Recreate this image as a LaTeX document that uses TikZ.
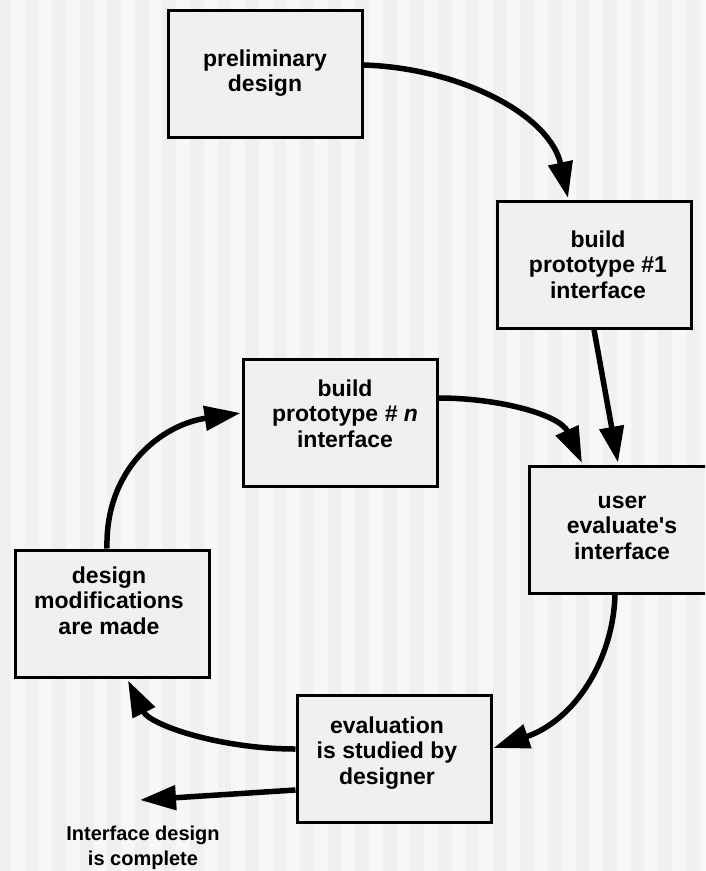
\documentclass[tikz,border=0pt]{standalone}
\usepackage{fontspec}
\setmainfont{Liberation Sans}
\usetikzlibrary{arrows.meta,calc}
\definecolor{stripedark}{HTML}{F0F0F0}
\definecolor{stripelight}{HTML}{F7F7F7}
\definecolor{boxfill}{HTML}{F0F0F0}
% centred block of lines whose base is the baseline of the first line
\newcommand{\boxlines}[1]{\begin{tabular}[t]{@{}c@{}}#1\end{tabular}}

\begin{document}
\begin{tikzpicture}[x=1pt,y=-1pt,
  stepbox/.style={draw=black, line width=3pt, fill=boxfill,
    minimum width=194pt, minimum height=127pt, inner sep=0pt},
  boxtext/.style={anchor=base, inner sep=0pt,
    font=\fontsize{23}{25.5}\selectfont\bfseries},
  notetext/.style={anchor=base, inner sep=0pt,
    font=\fontsize{20}{25}\selectfont\bfseries},
  flow/.style={line width=5.5pt,
    -{Triangle[length=36pt,width=24pt]}}]

\useasboundingbox (0,0) rectangle (705,871);
\clip (0,0) rectangle (705,871);

% striped backdrop
\fill[stripedark] (0,0) rectangle (705,871);
\foreach \k in {0,...,25}
  \fill[stripelight] ({11+27.54*\k},0) rectangle ++(13.77,871);

% boxes
\node[stepbox] (pd) at (265,73.5) {};
\node[stepbox] (p1) at (594,264.5) {};
\node[stepbox] (pn) at (340,422.5) {};
\node[stepbox] (ue) at (626,530) {};
\node[stepbox] (dm) at (112,613.5) {};
\node[stepbox] (ev) at (394,758.5) {};

% box captions
\node[boxtext] (pdt) at (265,66) {\boxlines{preliminary\\design}};
\node[boxtext] (p1t) at (598,247) {\boxlines{build\\prototype \#1\\interface}};
\node[boxtext] (pnt) at (345,396) {\boxlines{build\\prototype \textit{\# n}\\interface}};
\node[boxtext] (uet) at (622,508) {\boxlines{user\\evaluate\textquotesingle s\\interface}};
\node[boxtext] (dmt) at (109,583) {\boxlines{design\\modifications\\are made}};
\node[boxtext] (evt) at (387,733) {\boxlines{evaluation\\is studied by\\designer}};

% exit label
\coordinate (doneend) at (140,800);
\node[notetext] (done) at (143,840) {\boxlines{Interface design\\is complete}};

% connectors
\draw[flow] ($(pd.east)+(0,-8.5)$) .. controls (460,68) and (550,115) .. ($(p1.north)+(-26,-1.5)$);
\draw[flow] (p1.south) -- ($(ue.north)+(-8,-2.5)$);
\draw[flow] ($(pn.east)+(0,-24.5)$) .. controls (500,398) and (560,415) .. ($(ue.north)+(-44,-2)$);
\draw[flow] ($(ue.south)+(-11,0)$) .. controls (613,660) and (575,720) .. ($(ev.east)+(1,-10.5)$);
\draw[flow] ($(ev.west)+(0,-9.5)$) .. controls (220,749) and (150,725) .. ($(dm.south)+(16,2)$);
\draw[flow] ($(dm.north)+(-5,0)$) .. controls (105,470) and (160,425) .. ($(pn.west)+(-1,-9.5)$);
\draw[flow] ($(ev.west)+(0,31.5)$) -- (doneend);

\end{tikzpicture}
\end{document}
